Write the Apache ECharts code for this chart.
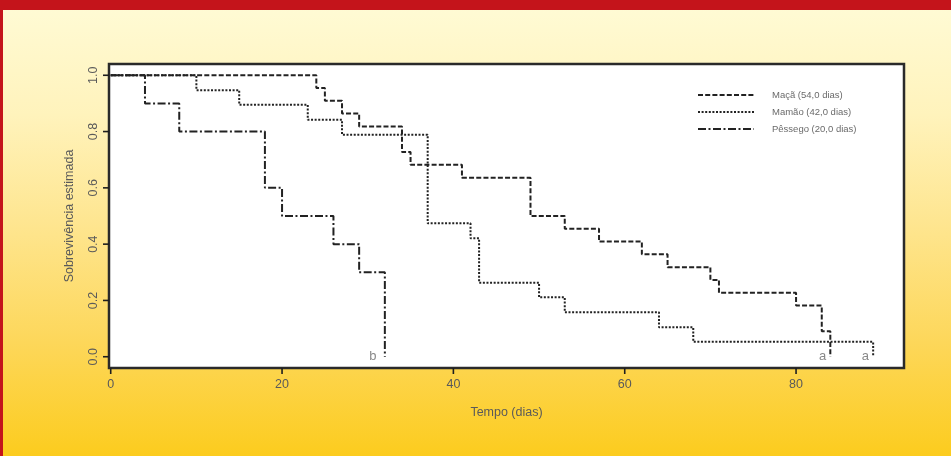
<!DOCTYPE html>
<html>
<head>
<meta charset="utf-8">
<script src="https://cdn.jsdelivr.net/npm/echarts@6/dist/echarts.min.js"></script>
<style>
  html, body { margin: 0; padding: 0; }
  body {
    width: 951px; height: 456px; overflow: hidden; position: relative;
    background: linear-gradient(180deg, #fffbd6 0%, #fff3bc 25%, #fee58e 50%, #fdd75a 75%, #fccc1e 100%);
  }
  #topband { position: absolute; left: 0; top: 0; width: 951px; height: 10px; background: #c4141b; }
  #leftband { position: absolute; left: 0; top: 0; width: 3px; height: 456px; background: #c4141b; }
  #chart { position: absolute; left: 0; top: 0; width: 951px; height: 456px; }
</style>
</head>
<body>
<div id="topband"></div>
<div id="leftband"></div>
<div id="chart"></div>
<script>
// Kaplan-Meier step data: [tempo (dias), sobrevivência estimada]
const macaTimes  = [0, 24, 25, 27, 29, 34, 35, 41, 49, 53, 57, 62, 65, 70, 71, 80, 83, 84];
const macaSurv   = [1.0, 0.955, 0.909, 0.864, 0.818, 0.727, 0.682, 0.636, 0.5, 0.455, 0.409, 0.364, 0.318, 0.273, 0.227, 0.182, 0.091, 0.0];
const mamaoTimes = [0, 10, 15, 23, 27, 37, 42, 43, 50, 53, 64, 68, 89];
const mamaoSurv  = [1.0, 0.947, 0.895, 0.842, 0.789, 0.474, 0.421, 0.263, 0.211, 0.158, 0.105, 0.053, 0.0];
const pessegoTimes = [0, 4, 8, 18, 20, 26, 29, 32];
const pessegoSurv  = [1.0, 0.9, 0.8, 0.6, 0.5, 0.4, 0.3, 0.0];
const seriesNames = ['Maçã (54,0 dias)', 'Mamão (42,0 dias)', 'Pêssego (20,0 dias)'];
const annotationText = ['b', 'a', 'a'];
const annotationX = [30.6, 83.1, 88.1];
const annotationY = [0.0, 0.0, 0.0];
const xTicks = [0, 20, 40, 60, 80];
const yTicks = [0, 0.2, 0.4, 0.6, 0.8, 1.0];
const xMin = -0.2, xMax = 92.6, yMin = -0.04, yMax = 1.04;

const zip = (a, b) => a.map((v, i) => [v, b[i]]);
const FONT = 'Liberation Sans, Arial, sans-serif';
const TXT = '#5a5a5a';
const LINE = '#222';
const BOX = '#2a2a2a';
const TICK_LEN = 6;

// tick marks placed through the axis scales (api.coord)
function tickSeries(values, isX) {
  return {
    type: 'custom', silent: true, clip: false, z: 20,
    data: values.map(v => isX ? [v, yMin] : [xMin, v]),
    renderItem: (params, api) => {
      const p = api.coord([api.value(0), api.value(1)]);
      const shape = isX
        ? { x1: p[0], y1: p[1], x2: p[0], y2: p[1] + TICK_LEN }
        : { x1: p[0], y1: p[1], x2: p[0] - TICK_LEN, y2: p[1] };
      return { type: 'line', shape: shape, style: { stroke: '#1e1e1e', lineWidth: 1.6, fill: null } };
    }
  };
}

const chart = echarts.init(document.getElementById('chart'), null, { renderer: 'canvas' });
chart.setOption({
  animation: false,
  backgroundColor: 'transparent',
  grid: {
    left: 109, right: 47, top: 64, bottom: 88,
    show: true, backgroundColor: '#ffffff', borderColor: BOX, borderWidth: 2.5
  },
  legend: {
    orient: 'vertical', left: 692, top: 85,
    itemWidth: 56, itemHeight: 10, itemGap: 7,
    data: seriesNames,
    itemStyle: { opacity: 0 },
    textStyle: { fontFamily: FONT, fontSize: 9.5, color: '#6a6a6a', padding: [0, 0, 0, 13] }
  },
  xAxis: {
    type: 'value', min: xMin, max: xMax,
    name: 'Tempo (dias)', nameLocation: 'middle', nameGap: 38,
    nameTextStyle: { fontFamily: FONT, fontSize: 12.5, color: TXT },
    axisLine: { show: false, onZero: false },
    splitLine: { show: false },
    axisTick: { show: false },
    axisLabel: { customValues: xTicks, fontFamily: FONT, fontSize: 12.5, color: TXT, margin: 10 }
  },
  yAxis: {
    type: 'value', min: yMin, max: yMax,
    name: 'Sobrevivência estimada', nameLocation: 'middle', nameGap: 33, nameRotate: 90,
    nameTextStyle: { fontFamily: FONT, fontSize: 12.5, color: TXT },
    axisLine: { show: false, onZero: false },
    splitLine: { show: false },
    axisTick: { show: false },
    axisLabel: {
      customValues: yTicks, rotate: 90, fontFamily: FONT, fontSize: 12.5, color: TXT, margin: 9,
      formatter: v => v.toFixed(1)
    }
  },
  series: [
    {
      name: seriesNames[0], type: 'line', step: 'end', symbol: 'none',
      data: zip(macaTimes, macaSurv),
      lineStyle: { color: LINE, width: 2, type: [5, 2.2] }, itemStyle: { color: LINE }
    },
    {
      name: seriesNames[1], type: 'line', step: 'end', symbol: 'none',
      data: zip(mamaoTimes, mamaoSurv),
      lineStyle: { color: LINE, width: 2, type: [2, 1.6] }, itemStyle: { color: LINE }
    },
    {
      name: seriesNames[2], type: 'line', step: 'end', symbol: 'none',
      data: zip(pessegoTimes, pessegoSurv),
      lineStyle: { color: LINE, width: 2, type: [8, 2.5, 2, 2.5] }, itemStyle: { color: LINE }
    },
    {
      name: 'anotações', type: 'scatter', symbolSize: 0, silent: true,
      data: annotationText.map((t, i) => ({ name: t, value: [annotationX[i], annotationY[i]] })),
      label: {
        show: true, position: 'inside', formatter: p => p.name,
        fontFamily: FONT, fontSize: 13, color: '#6a6a6a'
      }
    },
    tickSeries(xTicks, true),
    tickSeries(yTicks, false)
  ]
});
</script>
</body>
</html>
